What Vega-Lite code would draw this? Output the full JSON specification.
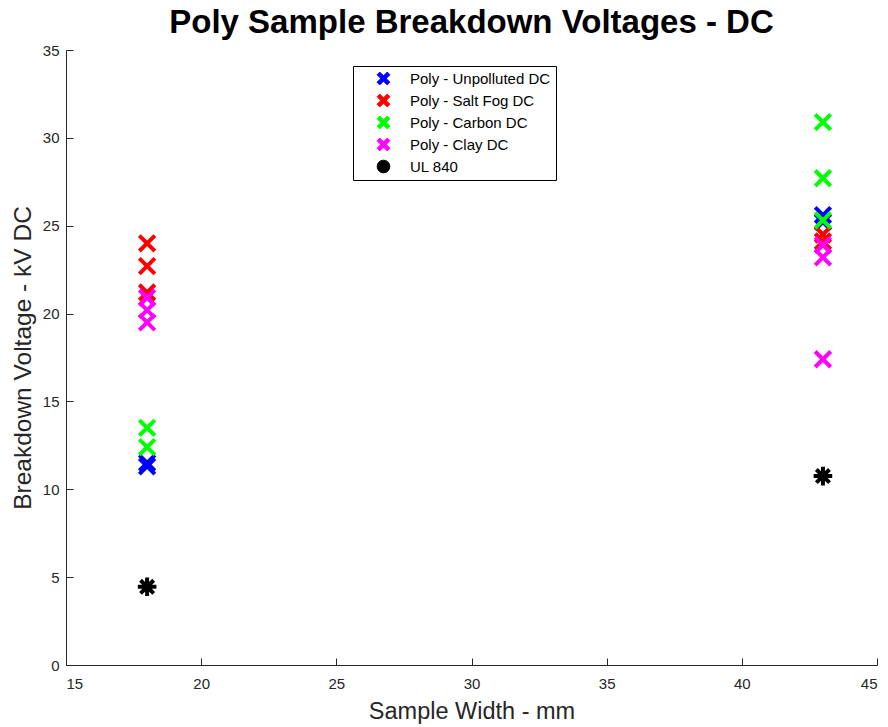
{
  "$schema": "https://vega.github.io/schema/vega-lite/v6.json",
  "autosize": "none",
  "width": 811,
  "height": 615,
  "padding": {"left": 66, "top": 50, "right": 11, "bottom": 62},
  "background": "white",
  "title": {
    "text": "Poly Sample Breakdown Voltages - DC",
    "font": "Liberation Sans",
    "fontSize": 33,
    "fontWeight": "bold",
    "color": "black",
    "anchor": "middle",
    "offset": 3
  },
  "config": {
    "view": {"stroke": null},
    "font": "Liberation Sans"
  },
  "data": {
    "values": [
      {"width": 18, "voltage": 11.3, "series": "Poly - Unpolluted DC"},
      {"width": 18, "voltage": 11.5, "series": "Poly - Unpolluted DC"},
      {"width": 43, "voltage": 25.6, "series": "Poly - Unpolluted DC"},
      {"width": 43, "voltage": 25.2, "series": "Poly - Unpolluted DC"},
      {"width": 18, "voltage": 24.0, "series": "Poly - Salt Fog DC"},
      {"width": 18, "voltage": 22.7, "series": "Poly - Salt Fog DC"},
      {"width": 18, "voltage": 21.2, "series": "Poly - Salt Fog DC"},
      {"width": 43, "voltage": 24.5, "series": "Poly - Salt Fog DC"},
      {"width": 43, "voltage": 24.1, "series": "Poly - Salt Fog DC"},
      {"width": 18, "voltage": 13.5, "series": "Poly - Carbon DC"},
      {"width": 18, "voltage": 12.4, "series": "Poly - Carbon DC"},
      {"width": 43, "voltage": 30.9, "series": "Poly - Carbon DC"},
      {"width": 43, "voltage": 27.7, "series": "Poly - Carbon DC"},
      {"width": 43, "voltage": 25.3, "series": "Poly - Carbon DC"},
      {"width": 18, "voltage": 20.9, "series": "Poly - Clay DC"},
      {"width": 18, "voltage": 20.2, "series": "Poly - Clay DC"},
      {"width": 18, "voltage": 19.5, "series": "Poly - Clay DC"},
      {"width": 43, "voltage": 23.9, "series": "Poly - Clay DC"},
      {"width": 43, "voltage": 23.2, "series": "Poly - Clay DC"},
      {"width": 43, "voltage": 17.4, "series": "Poly - Clay DC"},
      {"width": 18, "voltage": 4.45, "series": "UL 840"},
      {"width": 43, "voltage": 10.75, "series": "UL 840"}
    ]
  },
  "encoding": {
    "x": {
      "field": "width",
      "type": "quantitative",
      "scale": {"domain": [15, 45], "nice": false, "zero": false},
      "axis": {
        "title": "Sample Width - mm",
        "values": [15, 20, 25, 30, 35, 40, 45],
        "grid": false,
        "tickSize": -7,
        "domainColor": "#262626",
        "tickColor": "#262626",
        "labelColor": "#262626",
        "labelFontSize": 15,
        "labelPadding": 18,
        "titleFontSize": 23.5,
        "titleFontWeight": "normal",
        "titleColor": "#262626",
        "titlePadding": 8
      }
    },
    "y": {
      "field": "voltage",
      "type": "quantitative",
      "scale": {"domain": [0, 35], "nice": false},
      "axis": {
        "title": "Breakdown Voltage - kV DC",
        "values": [0, 5, 10, 15, 20, 25, 30, 35],
        "grid": false,
        "tickSize": -7,
        "domainColor": "#262626",
        "tickColor": "#262626",
        "labelColor": "#262626",
        "labelFontSize": 15,
        "labelPadding": 14,
        "titleFontSize": 24.5,
        "titleFontWeight": "normal",
        "titleColor": "#262626",
        "titlePadding": 7
      }
    }
  },
  "layer": [
    {
      "transform": [{"filter": "false"}],
      "mark": {"type": "point", "filled": true, "opacity": 1, "size": 150},
      "encoding": {
        "color": {
          "field": "series",
          "type": "nominal",
          "scale": {
            "domain": ["Poly - Unpolluted DC", "Poly - Salt Fog DC", "Poly - Carbon DC", "Poly - Clay DC", "UL 840"],
            "range": ["#0000ff", "#ff0000", "#00ff00", "#ff00ff", "#000000"]
          },
          "legend": {
            "title": null,
            "orient": "none",
            "legendX": 287,
            "legendY": 16,
            "strokeColor": "black",
            "fillColor": "white",
            "padding": 5,
            "labelFontSize": 15,
            "labelColor": "black",
            "rowPadding": 5,
            "symbolSize": 160,
            "symbolStrokeWidth": 1,
            "labelOffset": 19,
            "symbolOffset": 18
          }
        },
        "shape": {
          "field": "series",
          "type": "nominal",
          "scale": {
            "domain": ["Poly - Unpolluted DC", "Poly - Salt Fog DC", "Poly - Carbon DC", "Poly - Clay DC", "UL 840"],
            "range": [
              "M-0.588,-1.012L1.012,0.588L0.588,1.012L-1.012,-0.588ZM-1.012,0.588L0.588,-1.012L1.012,-0.588L-0.588,1.012Z",
              "M-0.588,-1.012L1.012,0.588L0.588,1.012L-1.012,-0.588ZM-1.012,0.588L0.588,-1.012L1.012,-0.588L-0.588,1.012Z",
              "M-0.588,-1.012L1.012,0.588L0.588,1.012L-1.012,-0.588ZM-1.012,0.588L0.588,-1.012L1.012,-0.588L-0.588,1.012Z",
              "M-0.588,-1.012L1.012,0.588L0.588,1.012L-1.012,-0.588ZM-1.012,0.588L0.588,-1.012L1.012,-0.588L-0.588,1.012Z",
              "circle"
            ]
          },
          "legend": {
            "title": null,
            "orient": "none",
            "legendX": 287,
            "legendY": 16,
            "strokeColor": "black",
            "fillColor": "white",
            "padding": 5,
            "labelFontSize": 15,
            "labelColor": "black",
            "rowPadding": 5,
            "symbolSize": 160,
            "symbolStrokeWidth": 1,
            "labelOffset": 19,
            "symbolOffset": 18
          }
        }
      }
    },
    {
      "transform": [{"filter": "datum.series !== 'UL 840'"}],
      "mark": {"type": "point", "filled": false, "strokeWidth": 4, "opacity": 1, "size": 240, "shape": "M-1,-1L1,1M1,-1L-1,1"},
      "encoding": {
        "color": {"field": "series", "type": "nominal", "legend": null}
      }
    },
    {
      "transform": [{"filter": "datum.series === 'UL 840'"}],
      "mark": {"type": "point", "filled": false, "strokeWidth": 4, "opacity": 1, "size": 240, "shape": "M-1.2,0L1.2,0M0,-1.2L0,1.2M-0.85,-0.85L0.85,0.85M-0.85,0.85L0.85,-0.85"},
      "encoding": {
        "color": {"field": "series", "type": "nominal", "legend": null}
      }
    }
  ]
}
